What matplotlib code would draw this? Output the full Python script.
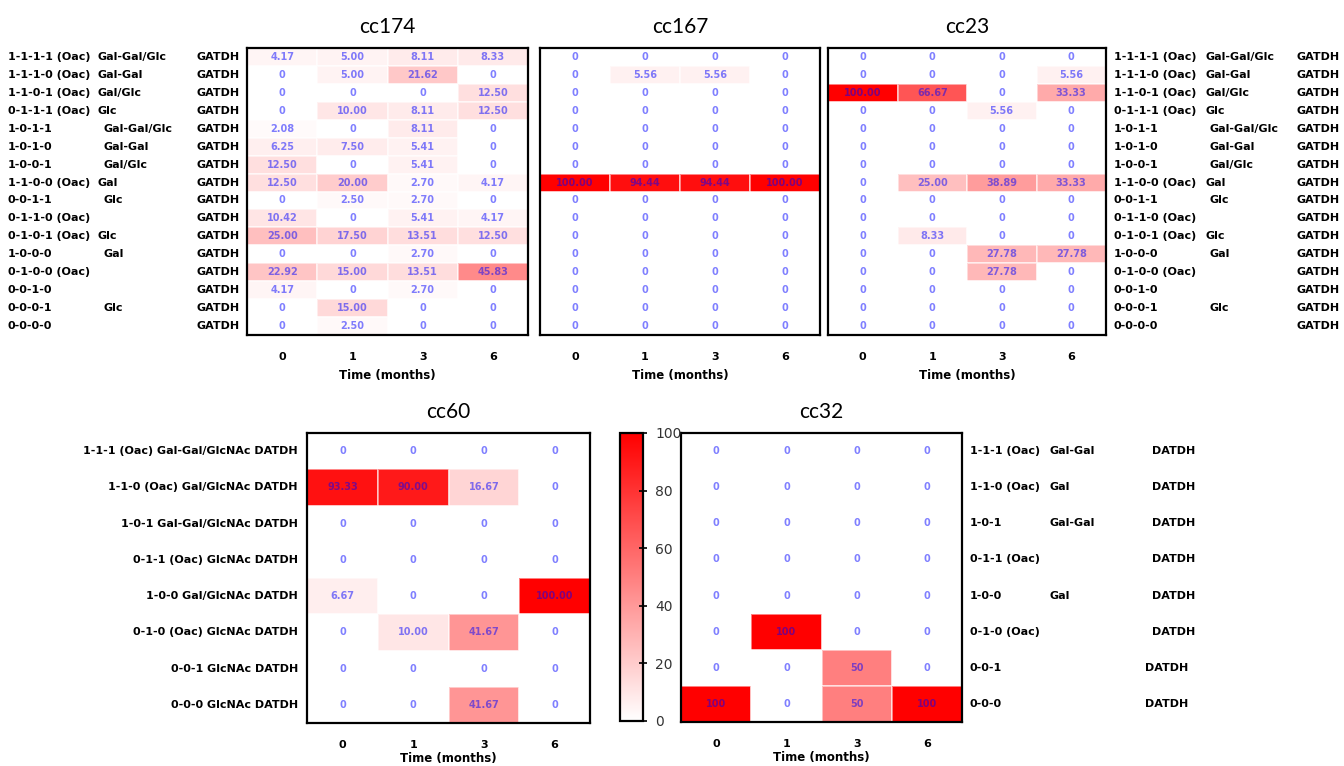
import numpy as np
import matplotlib
matplotlib.use("Agg")
import matplotlib.pyplot as plt
from matplotlib.colors import LinearSegmentedColormap
from matplotlib.transforms import blended_transform_factory

# time points (columns)
months = ["0", "1", "3", "6"]

# GATDH rows (cc174, cc167, cc23)
gatdh_codes = ["1-1-1-1 (Oac)", "1-1-1-0 (Oac)", "1-1-0-1 (Oac)", "0-1-1-1 (Oac)",
               "1-0-1-1", "1-0-1-0", "1-0-0-1", "1-1-0-0 (Oac)", "0-0-1-1",
               "0-1-1-0 (Oac)", "0-1-0-1 (Oac)", "1-0-0-0", "0-1-0-0 (Oac)",
               "0-0-1-0", "0-0-0-1", "0-0-0-0"]
gatdh_sugars = ["Gal-Gal/Glc", "Gal-Gal", "Gal/Glc", "Glc", "Gal-Gal/Glc", "Gal-Gal",
                "Gal/Glc", "Gal", "Glc", "", "Glc", "Gal", "", "", "Glc", ""]

cc174 = [[4.17, 5.00, 8.11, 8.33],
         [0, 5.00, 21.62, 0],
         [0, 0, 0, 12.50],
         [0, 10.00, 8.11, 12.50],
         [2.08, 0, 8.11, 0],
         [6.25, 7.50, 5.41, 0],
         [12.50, 0, 5.41, 0],
         [12.50, 20.00, 2.70, 4.17],
         [0, 2.50, 2.70, 0],
         [10.42, 0, 5.41, 4.17],
         [25.00, 17.50, 13.51, 12.50],
         [0, 0, 2.70, 0],
         [22.92, 15.00, 13.51, 45.83],
         [4.17, 0, 2.70, 0],
         [0, 15.00, 0, 0],
         [0, 2.50, 0, 0]]

cc167 = [[0, 0, 0, 0],
         [0, 5.56, 5.56, 0],
         [0, 0, 0, 0],
         [0, 0, 0, 0],
         [0, 0, 0, 0],
         [0, 0, 0, 0],
         [0, 0, 0, 0],
         [100.00, 94.44, 94.44, 100.00],
         [0, 0, 0, 0],
         [0, 0, 0, 0],
         [0, 0, 0, 0],
         [0, 0, 0, 0],
         [0, 0, 0, 0],
         [0, 0, 0, 0],
         [0, 0, 0, 0],
         [0, 0, 0, 0]]

cc23 = [[0, 0, 0, 0],
        [0, 0, 0, 5.56],
        [100.00, 66.67, 0, 33.33],
        [0, 0, 5.56, 0],
        [0, 0, 0, 0],
        [0, 0, 0, 0],
        [0, 0, 0, 0],
        [0, 25.00, 38.89, 33.33],
        [0, 0, 0, 0],
        [0, 0, 0, 0],
        [0, 8.33, 0, 0],
        [0, 0, 27.78, 27.78],
        [0, 0, 27.78, 0],
        [0, 0, 0, 0],
        [0, 0, 0, 0],
        [0, 0, 0, 0]]

# DATDH rows
cc60_labels = ["1-1-1 (Oac) Gal-Gal/GlcNAc DATDH", "1-1-0 (Oac) Gal/GlcNAc DATDH",
               "1-0-1 Gal-Gal/GlcNAc DATDH", "0-1-1 (Oac) GlcNAc DATDH",
               "1-0-0 Gal/GlcNAc DATDH", "0-1-0 (Oac) GlcNAc DATDH",
               "0-0-1 GlcNAc DATDH", "0-0-0 GlcNAc DATDH"]
cc60 = [[0, 0, 0, 0],
        [93.33, 90.00, 16.67, 0],
        [0, 0, 0, 0],
        [0, 0, 0, 0],
        [6.67, 0, 0, 100.00],
        [0, 10.00, 41.67, 0],
        [0, 0, 0, 0],
        [0, 0, 41.67, 0]]

cc32_codes = ["1-1-1 (Oac)", "1-1-0 (Oac)", "1-0-1", "0-1-1 (Oac)",
              "1-0-0", "0-1-0 (Oac)", "0-0-1", "0-0-0"]
cc32_sugars = ["Gal-Gal", "Gal", "Gal-Gal", "", "Gal", "", "", ""]
cc32 = [[0, 0, 0, 0],
        [0, 0, 0, 0],
        [0, 0, 0, 0],
        [0, 0, 0, 0],
        [0, 0, 0, 0],
        [0, 100, 0, 0],
        [0, 0, 50, 0],
        [100, 0, 50, 100]]

cmap = LinearSegmentedColormap.from_list("wr", ["#ffffff", "#ff0000"])
LABEL_FONT = "DejaVu Sans"
W, H = 1344, 766


def heat(rect, data, title, fmt, labelpad=5):
    ax = fig.add_axes(rect)
    data = np.array(data, dtype=float)
    nr, nc = data.shape
    mesh = ax.pcolormesh(np.arange(nc + 1), np.arange(nr + 1), data, cmap=cmap,
                         vmin=0, vmax=100, edgecolors=(1, 1, 1, 0.5), linewidth=0.2)
    ax.set_xlim(0, nc)
    ax.set_ylim(nr, 0)
    for i in range(nr):
        for j in range(nc):
            v = data[i, j]
            s = "0" if v == 0 else fmt.format(v)
            ax.text(j + 0.5, i + 0.5, s, ha="center", va="center", fontsize=7,
                    fontweight="bold", color="blue", alpha=0.5, family=LABEL_FONT)
    ax.set_xticks(np.arange(nc) + 0.5)
    ax.set_xticklabels(months, fontsize=8, fontweight="bold", family=LABEL_FONT)
    ax.tick_params(axis="x", length=0, pad=12)
    ax.set_yticks([])
    ax.set_xlabel("Time (months)", fontsize=8.5, fontweight="bold", family=LABEL_FONT,
                  labelpad=labelpad)
    ax.set_title(title, fontsize=15, family="Lato", pad=11)
    for sp in ax.spines.values():
        sp.set_linewidth(1.6)
    return ax, mesh


def frac(x0, y0, x1, y1):
    return [x0 / W, 1 - y1 / H, (x1 - x0) / W, (y1 - y0) / H]


fig = plt.figure(figsize=(13.44, 7.66), dpi=100)

ax1, _ = heat(frac(247, 48, 528, 335), cc174, "cc174", "{:.2f}")
ax2, _ = heat(frac(540, 48, 820, 335), cc167, "cc167", "{:.2f}")
ax3, _ = heat(frac(828, 48, 1106, 335), cc23, "cc23", "{:.2f}")
ax4, _ = heat(frac(307, 433, 590, 723), cc60, "cc60", "{:.2f}", labelpad=2)
ax5, mesh = heat(frac(681, 433, 962, 722), cc32, "cc32", "{:.0f}", labelpad=2)

lab = dict(fontsize=8, fontweight="bold", family=LABEL_FONT, va="center")

# left labels of cc174
tr = blended_transform_factory(fig.transFigure, ax1.transData)
for i, (c, s) in enumerate(zip(gatdh_codes, gatdh_sugars)):
    fig.text(8 / W, i + 0.5, c, transform=tr, ha="left", **lab)
    fig.text((98 if "Oac" in c else 104) / W, i + 0.5, s, transform=tr, ha="left", **lab)
    fig.text(240 / W, i + 0.5, "GATDH", transform=tr, ha="right", **lab)

# right labels of cc23
tr = blended_transform_factory(fig.transFigure, ax3.transData)
for i, (c, s) in enumerate(zip(gatdh_codes, gatdh_sugars)):
    fig.text(1114 / W, i + 0.5, c, transform=tr, ha="left", **lab)
    fig.text((1206 if "Oac" in c else 1210) / W, i + 0.5, s, transform=tr, ha="left", **lab)
    fig.text(1340 / W, i + 0.5, "GATDH", transform=tr, ha="right", **lab)

# left labels of cc60
tr = blended_transform_factory(fig.transFigure, ax4.transData)
for i, t in enumerate(cc60_labels):
    fig.text(298 / W, i + 0.5, t, transform=tr, ha="right", **lab)

# right labels of cc32
tr = blended_transform_factory(fig.transFigure, ax5.transData)
for i, (c, s) in enumerate(zip(cc32_codes, cc32_sugars)):
    fig.text(970 / W, i + 0.5, c, transform=tr, ha="left", **lab)
    fig.text(1050 / W, i + 0.5, s, transform=tr, ha="left", **lab)
    fig.text((1195 if i < 6 else 1188) / W, i + 0.5, "DATDH", transform=tr, ha="right", **lab)

# colour bar
cax = fig.add_axes(frac(620, 433, 643, 721))
cb = fig.colorbar(mesh, cax=cax, ticks=[0, 20, 40, 60, 80, 100])
cb.outline.set_linewidth(1.6)
cax.tick_params(direction="inout", length=6, width=1.2, labelsize=10, labelcolor="#333333", pad=6)

fig.savefig("out.png", dpi=100)
